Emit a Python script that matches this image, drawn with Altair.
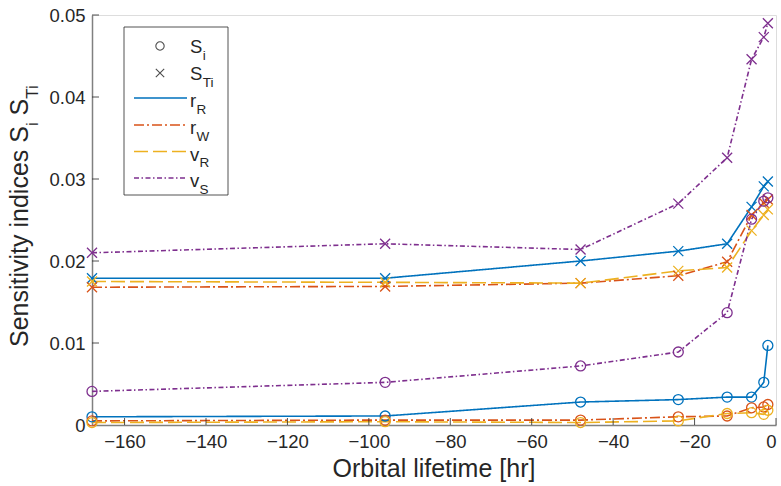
import altair as alt
import pandas as pd

# Orbital lifetime (hours before re-entry) at which the indices were computed
hours = [-168, -96, -48, -24, -12, -6, -3, -2]

# First-order (S_i) and total (S_Ti) Sobol indices per input parameter
rR_Si = [0.0010, 0.0011, 0.0028, 0.0031, 0.0034, 0.0034, 0.0052, 0.0097]
rR_STi = [0.0179, 0.0179, 0.0200, 0.0212, 0.0221, 0.0266, 0.0291, 0.0297]
rW_Si = [0.0005, 0.0006, 0.0006, 0.0010, 0.0011, 0.0021, 0.0022, 0.0025]
rW_STi = [0.0168, 0.0169, 0.0173, 0.0182, 0.0199, 0.0256, 0.0271, 0.0275]
vR_Si = [0.0003, 0.0004, 0.0003, 0.0005, 0.0014, 0.0015, 0.0013, 0.0018]
vR_STi = [0.0175, 0.0174, 0.0173, 0.0188, 0.0192, 0.0237, 0.0256, 0.0263]
vS_Si = [0.0041, 0.0052, 0.0072, 0.0089, 0.0137, 0.0251, 0.0273, 0.0277]
vS_STi = [0.0210, 0.0221, 0.0214, 0.0270, 0.0326, 0.0446, 0.0473, 0.0490]

params = ["rR", "rW", "vR", "vS"]
param_main = ["r", "r", "v", "v"]
param_sub = ["R", "W", "R", "S"]
colors = ["#0072BD", "#D95319", "#EDB120", "#7E2F8E"]
dashes = [[1, 0], [10, 3, 2, 3], [14, 5], [5, 2.5, 1.5, 2.5]]

x_ticks = [-160, -140, -120, -100, -80, -60, -40, -20, 0]
y_ticks = [0.01, 0.02, 0.03, 0.04, 0.05]

series = {
    ("rR", "Si"): rR_Si, ("rR", "STi"): rR_STi,
    ("rW", "Si"): rW_Si, ("rW", "STi"): rW_STi,
    ("vR", "Si"): vR_Si, ("vR", "STi"): vR_STi,
    ("vS", "Si"): vS_Si, ("vS", "STi"): vS_STi,
}
rows = []
for (p, kind), vals in series.items():
    for h, v in zip(hours, vals):
        rows.append({"param": p, "index": kind, "series": p + kind, "hours": h, "value": v})
df = pd.DataFrame(rows)

FONT = "Liberation Sans"
TXT = "#262626"
W, H = 684, 410
CROSS = "M-1,-1L1,1M-1,1L1,-1"

xscale = alt.Scale(domain=[-168, 0], nice=False, zero=False)
yscale = alt.Scale(domain=[0, 0.05], nice=False)

X = alt.X("hours:Q", scale=xscale,
          axis=alt.Axis(values=x_ticks, title="", ticks=False, labelFontSize=18.5,
                        labelPadding=7, labelColor=TXT, labelFont=FONT,
                        domainColor="#808080", domainWidth=1.5, grid=False))
Y = alt.Y("value:Q", scale=yscale,
          axis=alt.Axis(values=[0] + y_ticks, title="", ticks=False, labelFontSize=18.5,
                        labelPadding=7, labelColor=TXT, labelFont=FONT,
                        labelExpr="datum.value == 0 ? '0' : format(datum.value, '.2f')",
                        domainColor="#808080", domainWidth=1.5, grid=False))

color = alt.Color("param:N", scale=alt.Scale(domain=params, range=colors), legend=None)
dash = alt.StrokeDash("param:N", scale=alt.Scale(domain=params, range=dashes), legend=None)

lines = alt.Chart(df).mark_line(strokeWidth=1.6).encode(
    x=X, y=Y, color=color, strokeDash=dash, detail="series:N", order="hours:Q")

points = alt.Chart(df).mark_point(filled=False, size=100, strokeWidth=1.3, opacity=1).encode(
    x=alt.X("hours:Q", scale=xscale), y=alt.Y("value:Q", scale=yscale), color=color,
    shape=alt.Shape("index:N", scale=alt.Scale(domain=["Si", "STi"], range=["circle", CROSS]),
                    legend=None))

# inward tick marks
xt = alt.Chart(pd.DataFrame({"t": x_ticks})).mark_rule(color=TXT, strokeWidth=0.8).encode(
    x=alt.X("t:Q", scale=xscale), y=alt.value(H), y2=alt.value(H - 7))
yt = alt.Chart(pd.DataFrame({"t": y_ticks})).mark_rule(color=TXT, strokeWidth=0.8).encode(
    y=alt.Y("t:Q", scale=yscale), x=alt.value(0), x2=alt.value(7))

one = pd.DataFrame({"k": [0]})


def txt(s, x, y, size, angle=0, align="left"):
    return alt.Chart(one).mark_text(
        text=s, font=FONT, fontSize=size, color=TXT, align=align,
        baseline="alphabetic", angle=angle).encode(x=alt.value(x), y=alt.value(y))


# x-axis title
xtitle = txt("Orbital lifetime [hr]", W / 2, 462, 25, align="center")

# y-axis title with subscripts, read bottom to top
TS, SS = 25, 17
yb, ys = -64, -54
y0 = 332
w1 = 8.836 * TS          # "Sensitivity indices S"
w2 = 0.222 * SS + 0.278 * TS   # subscript "i" plus a word space
w3 = 0.667 * TS          # "S"
ytitle = [
    txt("Sensitivity indices S", yb, y0, TS, angle=270),
    txt("i", ys, y0 - w1, SS, angle=270),
    txt("S", yb, y0 - w1 - w2, TS, angle=270),
    txt("Ti", ys, y0 - w1 - w2 - w3, SS, angle=270),
]

# legend
LX0, LX1, LY0, LY1 = 32, 136, 12, 180
box = alt.Chart(one).mark_rect(fill="white", stroke=TXT, strokeWidth=0.8).encode(
    x=alt.value(LX0), x2=alt.value(LX1), y=alt.value(LY0), y2=alt.value(LY1))

LF, LS = 18.5, 13.5
tx = 98
base_y = [38, 65, 92, 119, 145.5, 172]
leg = [box]
leg.append(alt.Chart(one).mark_point(shape="circle", size=70, filled=False, color="black",
                                     strokeWidth=1.1).encode(x=alt.value(68), y=alt.value(31)))
leg.append(alt.Chart(one).mark_point(shape=CROSS, size=70, filled=False, color="black",
                                     strokeWidth=1.1).encode(x=alt.value(68), y=alt.value(58)))
leg.append(txt("S", tx, base_y[0], LF))
leg.append(txt("i", tx + 0.667 * LF + 0.5, base_y[0] + 6.5, LS))
leg.append(txt("S", tx, base_y[1], LF))
leg.append(txt("Ti", tx + 0.667 * LF + 0.5, base_y[1] + 6.5, LS))
for i, p in enumerate(params):
    by = base_y[2 + i]
    leg.append(alt.Chart(one).mark_rule(color=colors[i], strokeWidth=1.6,
                                        strokeDash=dashes[i]).encode(
        x=alt.value(42), x2=alt.value(95), y=alt.value(by - 9)))
    mw = (0.333 if param_main[i] == "r" else 0.5) * LF
    leg.append(txt(param_main[i], tx, by, LF))
    leg.append(txt(param_sub[i], tx + mw + 0.3, by + 6.5, LS))

chart = alt.layer(lines, points, xt, yt, xtitle, *ytitle, *leg).properties(
    width=W, height=H,
    autosize=alt.AutoSizeParams(type="none"),
    padding={"left": 92, "top": 15, "right": 5, "bottom": 61},
).configure_view(stroke=None).configure(font=FONT, background="white")

chart.save("out.html", embed_options={"renderer": "svg", "actions": False})
